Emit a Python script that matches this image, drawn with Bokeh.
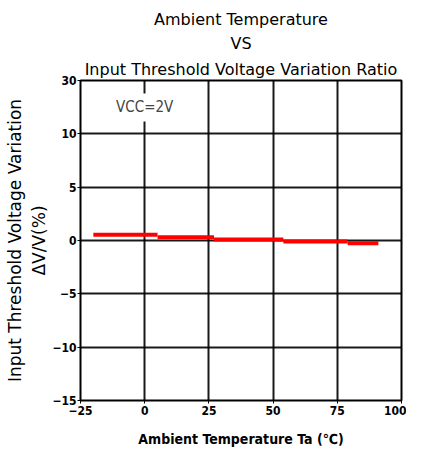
from bokeh.plotting import figure
from bokeh.models import Label, FixedTicker, Title
from bokeh.embed import file_html
from bokeh.resources import INLINE

# ---- data ----
temp_start = [-20, 5, 27, 54, 79]
temp_end = [5, 27, 54, 79, 91]
variation = [0.55, 0.3, 0.1, -0.1, -0.25]

x_ticks = [-25, 0, 25, 50, 75, 100]
y_ticks = [-15, -10, -5, 0, 5, 10, 15]
y_tick_labels = {15: "30"}

title_lines = ["Ambient Temperature", "VS", "Input Threshold Voltage Variation Ratio"]
y_label = "Input Threshold Voltage Variation\n\u0394V/V(%)"
x_label = "Ambient Temperature Ta (\u2103)"
note = "VCC=2V"

p = figure(width=406, height=450, x_range=(-25, 100), y_range=(-15, 15),
           output_backend="svg", toolbar_location=None,
           min_border_left=80, min_border_right=5, min_border_top=80, min_border_bottom=50)

p.outline_line_color = "black"
p.outline_line_width = 2
p.background_fill_color = "white"
p.border_fill_color = "white"

for ax in (p.xaxis, p.yaxis):
    ax.axis_line_color = None
    ax.major_tick_in = 0
    ax.major_tick_out = 3
    ax.major_tick_line_color = "black"
    ax.minor_tick_line_color = None
    ax.major_label_text_font = "DejaVu Sans Condensed"
    ax.major_label_text_font_style = "bold"
    ax.major_label_text_font_size = "12px"
    ax.major_label_text_color = "black"

p.xaxis.ticker = FixedTicker(ticks=x_ticks)
p.yaxis.ticker = FixedTicker(ticks=y_ticks)
p.yaxis.major_label_overrides = y_tick_labels
p.xaxis.major_label_standoff = 2
p.yaxis.major_label_standoff = 1

p.xaxis.axis_label = x_label
p.xaxis.axis_label_text_font = "DejaVu Sans Condensed"
p.xaxis.axis_label_text_font_style = "bold"
p.xaxis.axis_label_text_font_size = "14px"
p.xaxis.axis_label_text_color = "black"
p.xaxis.axis_label_text_line_height = 1.0
p.xaxis.axis_label_standoff = 13

p.yaxis.axis_label = y_label
p.yaxis.axis_label_text_font = "DejaVu Sans"
p.yaxis.axis_label_text_font_style = "normal"
p.yaxis.axis_label_text_font_size = "17px"
p.yaxis.axis_label_text_color = "black"
p.yaxis.axis_label_text_line_height = 1.2
p.yaxis.axis_label_standoff = 0

p.xgrid.ticker = FixedTicker(ticks=x_ticks)
p.ygrid.ticker = FixedTicker(ticks=y_ticks)
p.grid.grid_line_color = "black"
p.grid.grid_line_width = 2
p.grid.grid_line_alpha = 0.9

p.segment(x0=temp_start, x1=temp_end, y0=variation, y1=variation,
          line_color="red", line_width=4)

# titles: nearest to the plot first
standoffs = [3, 7, 0]
for txt, so in zip(reversed(title_lines), standoffs):
    p.add_layout(Title(text=txt, align="center", offset=5, standoff=so,
                       text_font="DejaVu Sans", text_font_size="16px",
                       text_font_style="normal", text_color="black"), "above")

# note
p.add_layout(Label(x=0, y=12.47, text=note, text_align="center", text_baseline="middle",
                   text_font="DejaVu Sans Condensed", text_font_size="15px", text_color="#444444",
                   background_fill_color="white", padding=5))

open("out.html", "w").write(file_html(p, INLINE))
